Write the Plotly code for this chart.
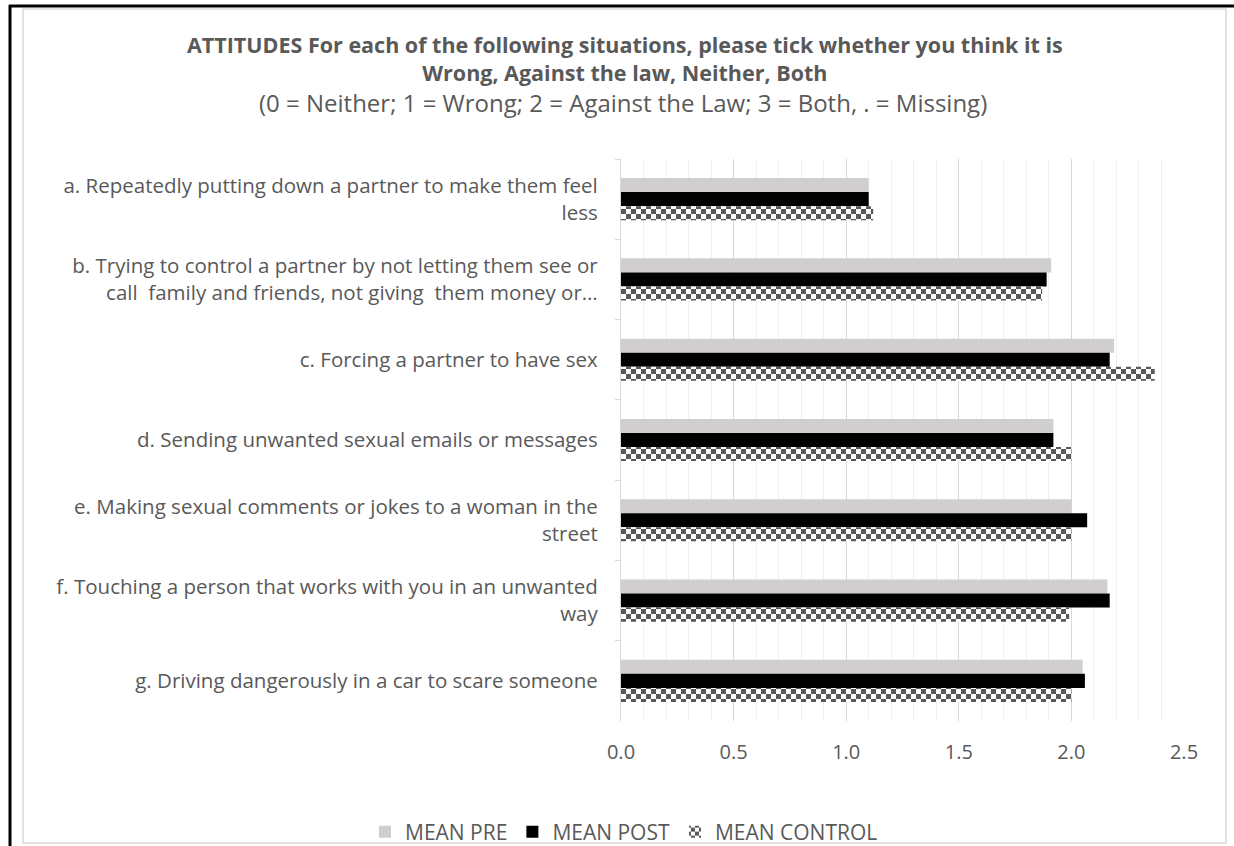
import plotly.graph_objects as go

# Survey items (y categories) and the three mean series
situations = [
    "a. Repeatedly putting down a partner to make them feel<br>less",
    "b. Trying to control a partner by not letting them see or<br>call  family and friends, not giving  them money or…",
    "c. Forcing a partner to have sex",
    "d. Sending unwanted sexual emails or messages",
    "e. Making sexual comments or jokes to a woman in the<br>street",
    "f. Touching a person that works with you in an unwanted<br>way",
    "g. Driving dangerously in a car to scare someone",
]
mean_pre = [1.10, 1.91, 2.19, 1.92, 2.00, 2.16, 2.05]
mean_post = [1.10, 1.89, 2.17, 1.92, 2.07, 2.17, 2.06]
mean_control = [1.12, 1.87, 2.37, 2.00, 2.00, 1.99, 2.00]

x_ticks = [0.0, 0.5, 1.0, 1.5, 2.0, 2.5]
x_tick_text = ["0.0", "0.5", "1.0", "1.5", "2.0", "2.5"]

title_lines = [
    "ATTITUDES For each of the following situations, please tick whether you think it is",
    "Wrong, Against the law, Neither, Both",
]
subtitle = "(0 = Neither; 1 = Wrong; 2 = Against the Law; 3 = Both, . = Missing)"

TEXT = "#595959"
FONT = "Open Sans"
CHECK_DARK = "#595959"

W, H = 1234, 846
L, R, T, B = 621, 50, 159, 125
PW, PH = W - L - R, H - T - B


def px(x):
    return (x - L) / PW


def py(y):
    return (H - B - y) / PH


fig = go.Figure()
fig.add_trace(go.Bar(
    name="MEAN PRE", y=situations, x=mean_pre, orientation="h",
    marker=dict(color="#d0cece", line=dict(width=0)),
))
fig.add_trace(go.Bar(
    name="MEAN POST", y=situations, x=mean_post, orientation="h",
    marker=dict(color="#000000", line=dict(width=0)),
))
fig.add_trace(go.Bar(
    name="MEAN CONTROL", y=situations, x=mean_control, orientation="h",
    marker=dict(
        color="#ffffff", line=dict(width=0),
        pattern=dict(shape="x", size=7, solidity=0.5,
                     fgcolor=CHECK_DARK, bgcolor="#ffffff", fillmode="replace"),
    ),
))

shapes = [
    # outer frame lines
    dict(type="line", xref="paper", yref="paper", x0=px(10), x1=px(10), y0=py(5), y1=py(846),
         line=dict(color="#000000", width=3)),
    dict(type="line", xref="paper", yref="paper", x0=px(9), x1=px(1234), y0=py(6), y1=py(6),
         line=dict(color="#000000", width=3)),
    # chart border
    dict(type="rect", xref="paper", yref="paper", x0=px(23), x1=px(1226), y0=py(9), y1=py(843),
         line=dict(color="#d9d9d9", width=1.5), layer="below"),
]

annotations = [
    dict(text="<b>" + title_lines[0] + "</b><br><b>" + title_lines[1] + "</b>",
         x=px(625), y=py(58.5), xref="paper", yref="paper", showarrow=False,
         xanchor="center", yanchor="middle", align="center",
         font=dict(family=FONT, size=21.5, color=TEXT)),
    dict(text=subtitle,
         x=px(623), y=py(102.5), xref="paper", yref="paper", showarrow=False,
         xanchor="center", yanchor="middle",
         font=dict(family=FONT, size=24, color=TEXT)),
]

fig.update_layout(
    width=W, height=H,
    margin=dict(l=L, r=R, t=T, b=B, pad=0, autoexpand=False),
    paper_bgcolor="#ffffff", plot_bgcolor="#ffffff",
    barmode="group", bargap=0.475, bargroupgap=0,
    font=dict(family=FONT, size=20, color=TEXT),
    showlegend=True,
    legend=dict(orientation="h", x=px(624), y=py(832), xanchor="center", yanchor="middle",
                font=dict(family=FONT, size=21, color=TEXT), traceorder="normal",
                itemwidth=30, bgcolor="rgba(0,0,0,0)"),
    shapes=shapes, annotations=annotations,
)

fig.update_xaxes(
    range=[0, 2.5], tickvals=x_ticks, ticktext=x_tick_text,
    showgrid=True, gridcolor="#d9d9d9", gridwidth=1.3,
    minor=dict(dtick=0.1, showgrid=True, gridcolor="#efefef", gridwidth=1.3, ticks=""),
    zeroline=False, showline=False,
    ticks="outside", ticklen=13, tickcolor="rgba(0,0,0,0)",
    tickfont=dict(family=FONT, size=20, color=TEXT), fixedrange=True,
)
fig.update_yaxes(
    autorange="reversed", showgrid=False, zeroline=False,
    showline=True, linecolor="#d9d9d9", linewidth=1.3,
    ticks="outside", tickson="boundaries", ticklen=5, tickcolor="#d9d9d9", tickwidth=1.3,
    ticklabelstandoff=18,
    tickfont=dict(family=FONT, size=20.5, color=TEXT), fixedrange=True,
)

# Turn the control pattern into a square checkerboard (bars and legend swatch)
checker_js = """
var gd = document.getElementById('{plot_id}');
function checker() {
  var ns = 'http://www.w3.org/2000/svg';
  gd.querySelectorAll('pattern').forEach(function (p) {
    p.setAttribute('width', 10);
    p.setAttribute('height', 10);
    while (p.firstChild) { p.removeChild(p.firstChild); }
    [[0, 0, 10, 10, '#ffffff'], [0, 0, 5, 5, '%s'], [5, 5, 5, 5, '%s']].forEach(function (r) {
      var e = document.createElementNS(ns, 'rect');
      e.setAttribute('x', r[0]); e.setAttribute('y', r[1]);
      e.setAttribute('width', r[2]); e.setAttribute('height', r[3]);
      e.setAttribute('fill', r[4]);
      p.appendChild(e);
    });
  });
}
checker();
gd.on('plotly_afterplot', checker);
""" % (CHECK_DARK, CHECK_DARK)

fig.write_html("out.html", post_script=checker_js)
